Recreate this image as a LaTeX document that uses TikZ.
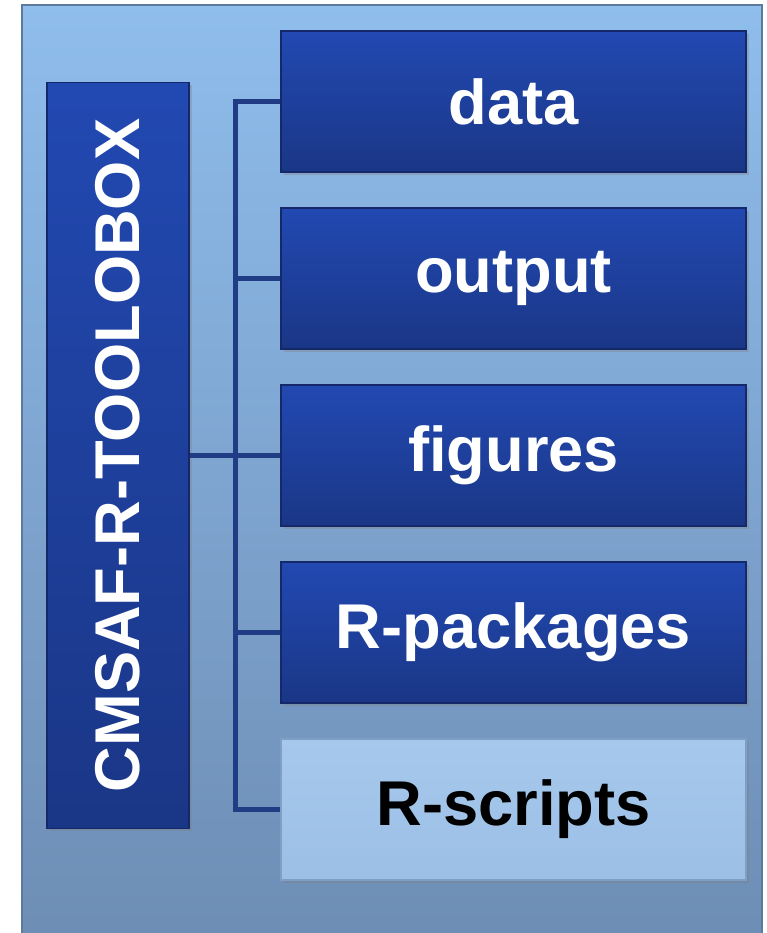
\documentclass[tikz,border=0pt]{standalone}
\usepackage{fontspec}
\setmainfont{Liberation Sans}
\usepackage{tikz}
\usetikzlibrary{shadows}

\definecolor{paneltop}{HTML}{8FBDEC}
\definecolor{panelbot}{HTML}{6D8DB4}
\definecolor{paneledge}{HTML}{5C7A9E}
\definecolor{boxtop}{HTML}{2249B2}
\definecolor{boxbot}{HTML}{1A3686}
\definecolor{boxedge}{HTML}{15296A}
\definecolor{lighttop}{HTML}{A6C8EC}
\definecolor{lightbot}{HTML}{9CBFE6}
\definecolor{lightedge}{HTML}{7F9FC4}
\definecolor{linkblue}{HTML}{1F3C85}

\begin{document}
\begin{tikzpicture}[
    folder/.style={minimum width=9.3cm, minimum height=2.82cm, inner sep=0pt,
        draw=boxedge, line width=0.6pt, top color=boxtop, bottom color=boxbot,
        text=white, font=\fontsize{36}{36}\selectfont\bfseries,
        drop shadow={opacity=0.35, shadow xshift=0.06cm, shadow yshift=-0.06cm}},
    lightfolder/.style={folder, draw=lightedge, top color=lighttop,
        bottom color=lightbot, text=black},
    link/.style={draw=linkblue, line width=0.1cm}]
        \useasboundingbox (0, 0) rectangle (15.34, 18.66);
        \shade [top color=paneltop, bottom color=panelbot, draw=paneledge, line width=1pt]
            (0.44, -0.2) rectangle (15.24, 18.56);
        \node [folder, rotate=90, minimum width=14.92cm, minimum height=2.84cm]
            (TB) at (2.36, 9.55) {CMSAF-R-TOOLOBOX};
        \node [folder] (DA) at (10.27, 16.63) {data};
        \node [folder] (OU) at (10.27, 13.09) {output};
        \node [folder] (FI) at (10.27, 9.55) {figures};
        \node [folder] (RP) at (10.27, 6.01) {R-packages};
        \node [lightfolder] (RS) at (10.27, 2.47) {R-scripts};
        \coordinate (TR) at (4.70, 9.55);
        \draw [link] (TB) -- (TR);
        \draw [link] (DA.west) -| (TR) |- (RS.west);
        \draw [link] (OU.west) -- (OU.west -| TR);
        \draw [link] (FI.west) -- (TR);
        \draw [link] (RP.west) -- (RP.west -| TR);
\end{tikzpicture}
\end{document}
